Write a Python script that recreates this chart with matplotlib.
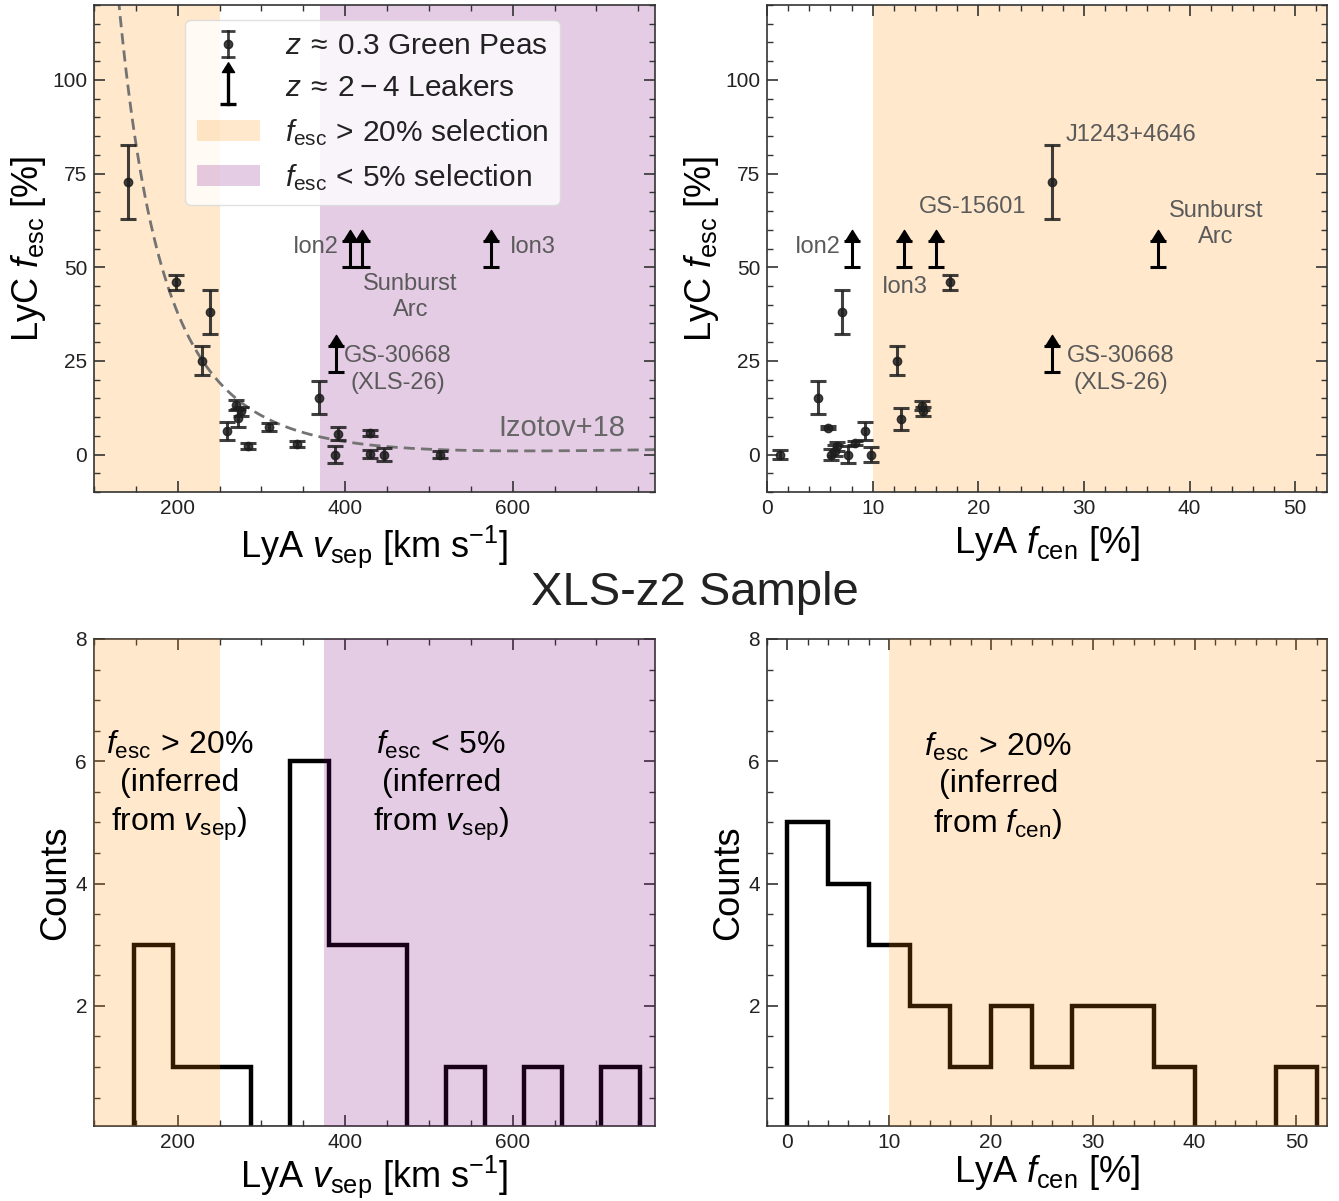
import numpy as np
import matplotlib
matplotlib.use('Agg')
import matplotlib.pyplot as plt
from matplotlib.patches import Patch
from matplotlib.lines import Line2D
from matplotlib.path import Path
from matplotlib.legend_handler import HandlerBase
from matplotlib.ticker import MultipleLocator

plt.rcParams['font.family'] = ['Liberation Sans', 'DejaVu Sans']
plt.rcParams['mathtext.fontset'] = 'custom'
plt.rcParams['mathtext.rm'] = 'Liberation Sans'
plt.rcParams['mathtext.it'] = 'Liberation Sans:italic'
plt.rcParams['mathtext.bf'] = 'Liberation Sans:bold'
plt.rcParams['mathtext.sf'] = 'Liberation Sans'

# ---------------- data ----------------
# Green Peas: LyA v_sep vs LyC f_esc
gp_vsep = [141, 198, 239, 229, 259, 270, 276, 272, 284, 309, 343, 369, 391, 388, 430, 430, 446, 513]
gp_fesc_v = [72.7, 46.0, 38.0, 25.1, 6.2, 13.2, 11.5, 9.8, 2.2, 7.3, 2.7, 15.1, 5.6, 0.0, 5.8, 0.2, 0.0, 0.0]
gp_err_v = [9.8, 2.0, 5.8, 3.9, 2.4, 1.3, 1.3, 2.4, 0.8, 1.0, 0.8, 4.4, 1.8, 2.3, 0.8, 1.0, 1.8, 1.0]

# Green Peas: LyA f_cen vs LyC f_esc
gp_fcen = [1.2, 4.8, 5.8, 6.1, 6.4, 6.6, 7.1, 7.7, 8.3, 9.3, 9.8, 12.3, 12.7, 14.7, 14.8, 17.3, 27.0]
gp_fesc_c = [0.0, 15.1, 7.1, 0.0, 1.0, 2.2, 38.0, 0.0, 3.0, 6.2, 0.0, 25.1, 9.5, 13.0, 11.5, 46.0, 72.7]
gp_err_c = [1.1, 4.4, 0.4, 1.5, 1.5, 1.2, 5.8, 2.2, 0.5, 2.4, 2.0, 3.9, 2.9, 1.2, 1.2, 2.0, 9.8]

# z~2-4 leakers (lower limits)
lk_vsep = [406, 420, 574, 389]
lk_fesc_v = [50, 50, 50, 22]
lk_fcen = [8.0, 13.0, 16.0, 37.0, 27.0]
lk_fesc_c = [50, 50, 50, 50, 22]
ARROW = 7.0

# Izotov+18 relation coefficients
IZ_A, IZ_B, IZ_C = 3.23e4, 1.05e2, 0.095

# XLS-z2 sample histograms
vsep_edges = [148.0, 194.5, 241.0, 287.5, 334.0, 380.5, 427.0, 473.5, 520.0, 566.5, 613.0, 659.5, 706.0, 752.5]
vsep_counts = [3, 1, 1, 0, 6, 3, 3, 0, 1, 0, 1, 0, 1]
fcen_edges = [0, 4, 8, 12, 16, 20, 24, 28, 32, 36, 40, 44, 48, 52]
fcen_counts = [5, 4, 3, 2, 1, 2, 1, 2, 2, 1, 0, 0, 1]

# ---------------- figure ----------------
W, H = 1339, 1201
fig = plt.figure(figsize=(W / 100, H / 100), dpi=100)


def axpos(x0, y0, x1, y1):
    return [x0 / W, 1 - y1 / H, (x1 - x0) / W, (y1 - y0) / H]


ax1 = fig.add_axes(axpos(94, 5, 655, 492))
ax2 = fig.add_axes(axpos(767, 5, 1327, 492))
ax3 = fig.add_axes(axpos(94, 639, 655, 1126))
ax4 = fig.add_axes(axpos(767, 639, 1327, 1126))

ORANGE = 'darkorange'
PURPLE = 'purple'
SALPHA = 0.2
GP_COLOR = '#1e1e1e'
LBL = '#5a5a5a'
TRI = Path([(-1, 0), (1, 0), (0, 1.6), (-1, 0)], [Path.MOVETO, Path.LINETO, Path.LINETO, Path.CLOSEPOLY])


def style(ax):
    ax.tick_params(which='both', direction='in', top=True, right=True,
                   color='#333333', labelcolor='#222222', labelsize=15)
    ax.tick_params(which='major', length=8, width=1.2, pad=5)
    ax.tick_params(which='minor', length=4, width=1.0)
    for s in ax.spines.values():
        s.set_color('#333333')
        s.set_linewidth(1.2)


def draw_leakers(ax, x, y):
    ax.errorbar(x, y, yerr=[[0] * len(y), [ARROW] * len(y)], fmt='none', ecolor='k',
                elinewidth=2.2, capsize=6, capthick=2.2, zorder=5)
    top = [v + ARROW for v in y]
    ax.plot(x, top, ls='none', marker=TRI, ms=16, color='k', zorder=6)


def draw_gp(ax, x, y, e):
    ax.errorbar(x, y, yerr=e, fmt='o', color=GP_COLOR, ms=6, elinewidth=2.2,
                capsize=6, capthick=2.2, alpha=0.85, zorder=4)


# ---- top-left ----
ax = ax1
style(ax)
ax.set_xlim(100, 770)
ax.set_ylim(-10, 120)
ax.axvspan(100, 250, color=ORANGE, alpha=SALPHA, lw=0, zorder=0)
ax.axvspan(370, 770, color=PURPLE, alpha=SALPHA, lw=0, zorder=0)
vv = np.linspace(110, 770, 400)
ax.plot(vv, 100 * (IZ_A / vv ** 2 - IZ_B / vv + IZ_C), ls=(0, (4, 2.2)), color='0.45', lw=2.0, zorder=2)
draw_gp(ax, gp_vsep, gp_fesc_v, gp_err_v)
draw_leakers(ax, lk_vsep, lk_fesc_v)
ax.set_xticks([200, 400, 600])
ax.xaxis.set_minor_locator(MultipleLocator(50))
ax.set_yticks([0, 25, 50, 75, 100])
ax.yaxis.set_minor_locator(MultipleLocator(5))
ax.set_xlabel(r'LyA $v_{\rm sep}$ [km s$^{-1}$]', fontsize=26, labelpad=4)
ax.set_ylabel(r'LyC $f_{\rm esc}$ [%]', fontsize=26, labelpad=3)
ax.text(392, 55.5, 'Ion2', ha='right', va='center', fontsize=17, color=LBL)
ax.text(597, 55.5, 'Ion3', ha='left', va='center', fontsize=17, color=LBL)
ax.text(478, 42, 'Sunburst\nArc', ha='center', va='center', fontsize=17, color=LBL, linespacing=1.25)
ax.text(399, 22.7, 'GS-30668\n(XLS-26)', ha='left', va='center', fontsize=17, color=LBL,
        multialignment='center', linespacing=1.25)
ax.text(659, 7.2, 'Izotov+18', ha='center', va='center', fontsize=21, color='#666666')


class HandlerGP(HandlerBase):
    def create_artists(self, legend, orig_handle, xdescent, ydescent, width, height, fontsize, trans):
        cx = 0.5 * width - xdescent
        cy = 0.5 * height - ydescent
        h = 0.62 * height
        bar = Line2D([cx, cx], [cy - h, cy + h], color=GP_COLOR, lw=2, alpha=0.85)
        caps = Line2D([cx, cx], [cy - h, cy + h], ls='none', marker='_', ms=10, mew=2,
                      color=GP_COLOR, alpha=0.85)
        dot = Line2D([cx], [cy], ls='none', marker='o', ms=6, color=GP_COLOR, alpha=0.85)
        for a in (bar, caps, dot):
            a.set_transform(trans)
        return [bar, caps, dot]


class HandlerArrow(HandlerBase):
    def create_artists(self, legend, orig_handle, xdescent, ydescent, width, height, fontsize, trans):
        cx = 0.5 * width - xdescent
        cy = 0.5 * height - ydescent
        y0 = cy - 0.85 * height
        y1 = cy + 0.65 * height
        bar = Line2D([cx, cx], [y0, y1], color='k', lw=2.4)
        cap = Line2D([cx], [y0], ls='none', marker='_', ms=11, mew=2.4, color='k')
        tri = Line2D([cx], [y1], ls='none', marker=TRI, ms=14, color='k')
        for a in (bar, cap, tri):
            a.set_transform(trans)
        return [bar, cap, tri]


h_gp = Line2D([], [])
h_lk = Line2D([], [])
handles = [h_gp, h_lk,
           Patch(facecolor=ORANGE, alpha=SALPHA, lw=0),
           Patch(facecolor=PURPLE, alpha=SALPHA, lw=0)]
labels = [r'$z \:\approx\: 0.3$ Green Peas', r'$z \:\approx\: 2 \:-\: 4$ Leakers',
          r'$f_{\rm esc} \,>\, 20\%$ selection', r'$f_{\rm esc} \,<\, 5\%$ selection']
leg = ax.legend(handles, labels, handler_map={h_gp: HandlerGP(), h_lk: HandlerArrow()},
                loc='upper left', bbox_to_anchor=(0.162, 0.969), borderaxespad=0,
                fontsize=21.5, handlelength=2.1, handletextpad=0.85, labelspacing=0.48,
                borderpad=0.4, framealpha=0.8, edgecolor='0.85', fancybox=True)
leg.set_zorder(10)
leg.get_frame().set_linewidth(1.0)
for t in leg.get_texts():
    t.set_color('#222222')

# ---- top-right ----
ax = ax2
style(ax)
ax.set_xlim(0, 53)
ax.set_ylim(-10, 120)
ax.axvspan(10, 53, color=ORANGE, alpha=SALPHA, lw=0, zorder=0)
draw_gp(ax, gp_fcen, gp_fesc_c, gp_err_c)
draw_leakers(ax, lk_fcen, lk_fesc_c)
ax.set_xticks([0, 10, 20, 30, 40, 50])
ax.xaxis.set_minor_locator(MultipleLocator(2))
ax.set_yticks([0, 25, 50, 75, 100])
ax.yaxis.set_minor_locator(MultipleLocator(5))
ax.set_xlabel(r'LyA $f_{\rm cen}$ [%]', fontsize=26, labelpad=4)
ax.set_ylabel(r'LyC $f_{\rm esc}$ [%]', fontsize=26, labelpad=3)
ax.text(7.0, 55.5, 'Ion2', ha='right', va='center', fontsize=17, color=LBL)
ax.text(13.0, 44.8, 'Ion3', ha='center', va='center', fontsize=17, color=LBL)
ax.text(19.5, 66.0, 'GS-15601', ha='center', va='center', fontsize=17, color=LBL)
ax.text(28.3, 85.2, 'J1243+4646', ha='left', va='center', fontsize=17, color=LBL)
ax.text(42.5, 61.5, 'Sunburst\nArc', ha='center', va='center', fontsize=17, color=LBL, linespacing=1.25)
ax.text(28.4, 22.7, 'GS-30668\n(XLS-26)', ha='left', va='center', fontsize=17, color=LBL,
        multialignment='center', linespacing=1.25)

# ---- bottom-left ----
ax = ax3
style(ax)
ax.set_xlim(100, 770)
ax.set_ylim(0.035, 8)
ax.stairs(vsep_counts, vsep_edges, color='k', lw=3.2, zorder=2)
ax.axvspan(100, 250, color=ORANGE, alpha=SALPHA, lw=0, zorder=3)
ax.axvspan(375, 770, color=PURPLE, alpha=SALPHA, lw=0, zorder=3)
ax.set_xticks([200, 400, 600])
ax.xaxis.set_minor_locator(MultipleLocator(50))
ax.set_yticks([2, 4, 6, 8])
ax.yaxis.set_minor_locator(MultipleLocator(0.5))
ax.set_xlabel(r'LyA $v_{\rm sep}$ [km s$^{-1}$]', fontsize=26, labelpad=1)
ax.set_ylabel('Counts', fontsize=26, labelpad=2)
ax.text(202, 5.6, '$f_{\\rm esc} \\,>\\, 20\\%$\n(inferred\nfrom $v_{\\rm sep}$)', ha='center', va='center',
        fontsize=23, linespacing=1.3, zorder=5)
ax.text(515, 5.6, '$f_{\\rm esc} \\,<\\, 5\\%$\n(inferred\nfrom $v_{\\rm sep}$)', ha='center', va='center',
        fontsize=23, linespacing=1.3, zorder=5)

# ---- bottom-right ----
ax = ax4
style(ax)
ax.set_xlim(-2, 53)
ax.set_ylim(0.035, 8)
ax.stairs(fcen_counts, fcen_edges, color='k', lw=3.2, zorder=2)
ax.axvspan(10, 53, color=ORANGE, alpha=SALPHA, lw=0, zorder=3)
ax.set_xticks([0, 10, 20, 30, 40, 50])
ax.xaxis.set_minor_locator(MultipleLocator(2))
ax.set_yticks([2, 4, 6, 8])
ax.yaxis.set_minor_locator(MultipleLocator(0.5))
ax.set_xlabel(r'LyA $f_{\rm cen}$ [%]', fontsize=26, labelpad=1)
ax.set_ylabel('Counts', fontsize=26, labelpad=2)
ax.text(20.7, 5.6, '$f_{\\rm esc} \\,>\\, 20\\%$\n(inferred\nfrom $f_{\\rm cen}$)', ha='center', va='center',
        fontsize=23, linespacing=1.3, zorder=5)

fig.text(0.519, 1 - 593 / H, 'XLS-z2 Sample', ha='center', va='center', fontsize=34, color='#222222')

fig.savefig('out.png', dpi=100)
